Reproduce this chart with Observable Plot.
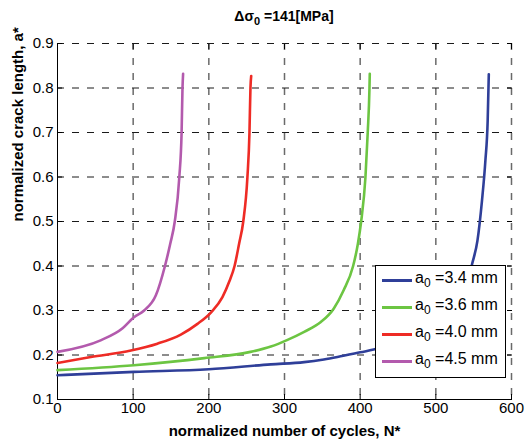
<!DOCTYPE html>
<html><head><meta charset="utf-8">
<script src="https://cdn.jsdelivr.net/npm/d3@7"></script>
<script src="https://cdn.jsdelivr.net/npm/@observablehq/plot@0.6"></script>
<style>
body{margin:0;background:#fff;font-family:"Liberation Sans",Arial,sans-serif;}
#wrap{position:relative;width:525px;height:441px;overflow:hidden;}
#title{height:30px;box-sizing:border-box;padding-left:43px;padding-top:9px;text-align:center;font-weight:bold;font-size:14px;line-height:14px;}
#title sub{font-size:11px;}
#legend{position:absolute;left:375px;top:265px;width:131px;height:113px;box-sizing:border-box;border:1px solid #000;background:#fff;padding-top:1px;}
.row{display:flex;align-items:center;height:27px;}
.sw{width:30px;height:3px;margin-left:6px;}
.lt{margin-left:3px;font-size:16px;line-height:16px;}
.lt sub{font-size:12px;}
</style></head>
<body><div id="wrap"><div id="title">Δσ<sub>0</sub> =141[MPa]</div><div id="chart"></div><div id="legend"></div></div>
<script>
const xTicks = [0,100,200,300,400,500,600];
const yTicks = [0.1,0.2,0.3,0.4,0.5,0.6,0.7,0.8,0.9];
const seriesNames = ["3.4 mm","3.6 mm","4.0 mm","4.5 mm"];
const seriesColors = ["#2f3f99","#6cc542","#ee2b25","#b35aad"];

const n34 = [0,101,200,282,326,352,370,400,425,455,485,510,530,543,548,555,561,565.5,568.5,570];
const a34 = [0.1545,0.162,0.168,0.179,0.184,0.19,0.1955,0.206,0.215,0.23,0.252,0.28,0.32,0.37,0.405,0.457,0.547,0.637,0.726,0.831];
const n36 = [0,101,194,255,282,304,326,348,365,378,390.7,397,401.3,407,410,412.3,412.7];
const a36 = [0.166,0.177,0.193,0.207,0.219,0.234,0.252,0.274,0.304,0.345,0.40,0.45,0.50,0.60,0.70,0.80,0.832];
const n40 = [0,44,97,132,163,185,203,218,227,234,240,245.5,251,253.7,255,256];
const a40 = [0.182,0.1955,0.21,0.2255,0.246,0.27,0.296,0.33,0.365,0.40,0.45,0.50,0.60,0.70,0.80,0.827];
const n45 = [0,57,86,101,114.5,130,142,149,155,161,164,165.2,166];
const a45 = [0.207,0.233,0.26,0.285,0.30,0.334,0.40,0.45,0.50,0.60,0.70,0.80,0.832];

const xLabel = "normalized number of cycles, N*";
const yLabel = "normalized crack length, a*";

const Ns = [n34,n36,n40,n45], As = [a34,a36,a40,a45];
const data = [];
Ns.forEach((ns,i)=>ns.forEach((n,j)=>data.push({s:seriesNames[i], n, a:As[i][j]})));

const chart = Plot.plot({
  width:525, height:411, marginTop:13, marginBottom:42, marginLeft:57, marginRight:14,
  style:{fontFamily:"Liberation Sans, Arial, sans-serif", fontSize:"15px", color:"#000", background:"#fff", overflow:"visible"},
  x:{domain:[0,600]},
  y:{domain:[0.1,0.9]},
  color:{domain:seriesNames, range:seriesColors},
  marks:[
    Plot.gridX(xTicks.slice(1), {stroke:"#6a6a6a", strokeOpacity:1, strokeDasharray:"7,8", strokeWidth:1.5}),
    Plot.gridY(yTicks.slice(1), {stroke:"#1a1a1a", strokeOpacity:1, strokeDasharray:"7,8", strokeWidth:1}),
    Plot.ruleX([0], {stroke:"#000"}),
    Plot.ruleY([0.1], {stroke:"#000"}),
    Plot.axisX(xTicks, {anchor:"bottom", tickSize:0, tickPadding:3, label:null, fontSize:15}),
    Plot.axisX(xTicks, {anchor:"bottom", tickSize:-5, tickFormat:()=>"", label:null}),
    Plot.axisX(xTicks, {anchor:"top", tickSize:-5, tickFormat:()=>"", label:null}),
    Plot.axisY(yTicks, {anchor:"left", tickSize:0, tickPadding:4, tickFormat:d3.format(".1f"), label:null, fontSize:15}),
    Plot.axisY(yTicks, {anchor:"left", tickSize:-5, tickFormat:()=>"", label:null}),
    Plot.axisY(yTicks, {anchor:"right", tickSize:-5, tickFormat:()=>"", label:null}),
    Plot.line(data, {x:"n", y:"a", stroke:"s", z:"s", strokeWidth:2.6, curve:"monotone-x"}),
    Plot.text([xLabel], {text:d=>d, frameAnchor:"bottom", lineAnchor:"middle", dy:32, fontWeight:"bold", fontSize:15}),
    Plot.text([yLabel], {text:d=>d, frameAnchor:"left", lineAnchor:"middle", dx:-39, rotate:-90, fontWeight:"bold", fontSize:15})
  ]
});
document.getElementById("chart").appendChild(chart);

const leg = document.getElementById("legend");
seriesNames.forEach((s,i)=>{
  const r = document.createElement("div"); r.className="row";
  r.innerHTML = `<div class="sw" style="background:${seriesColors[i]}"></div><div class="lt">a<sub>0</sub> =${s}</div>`;
  leg.appendChild(r);
});
</script></body></html>
